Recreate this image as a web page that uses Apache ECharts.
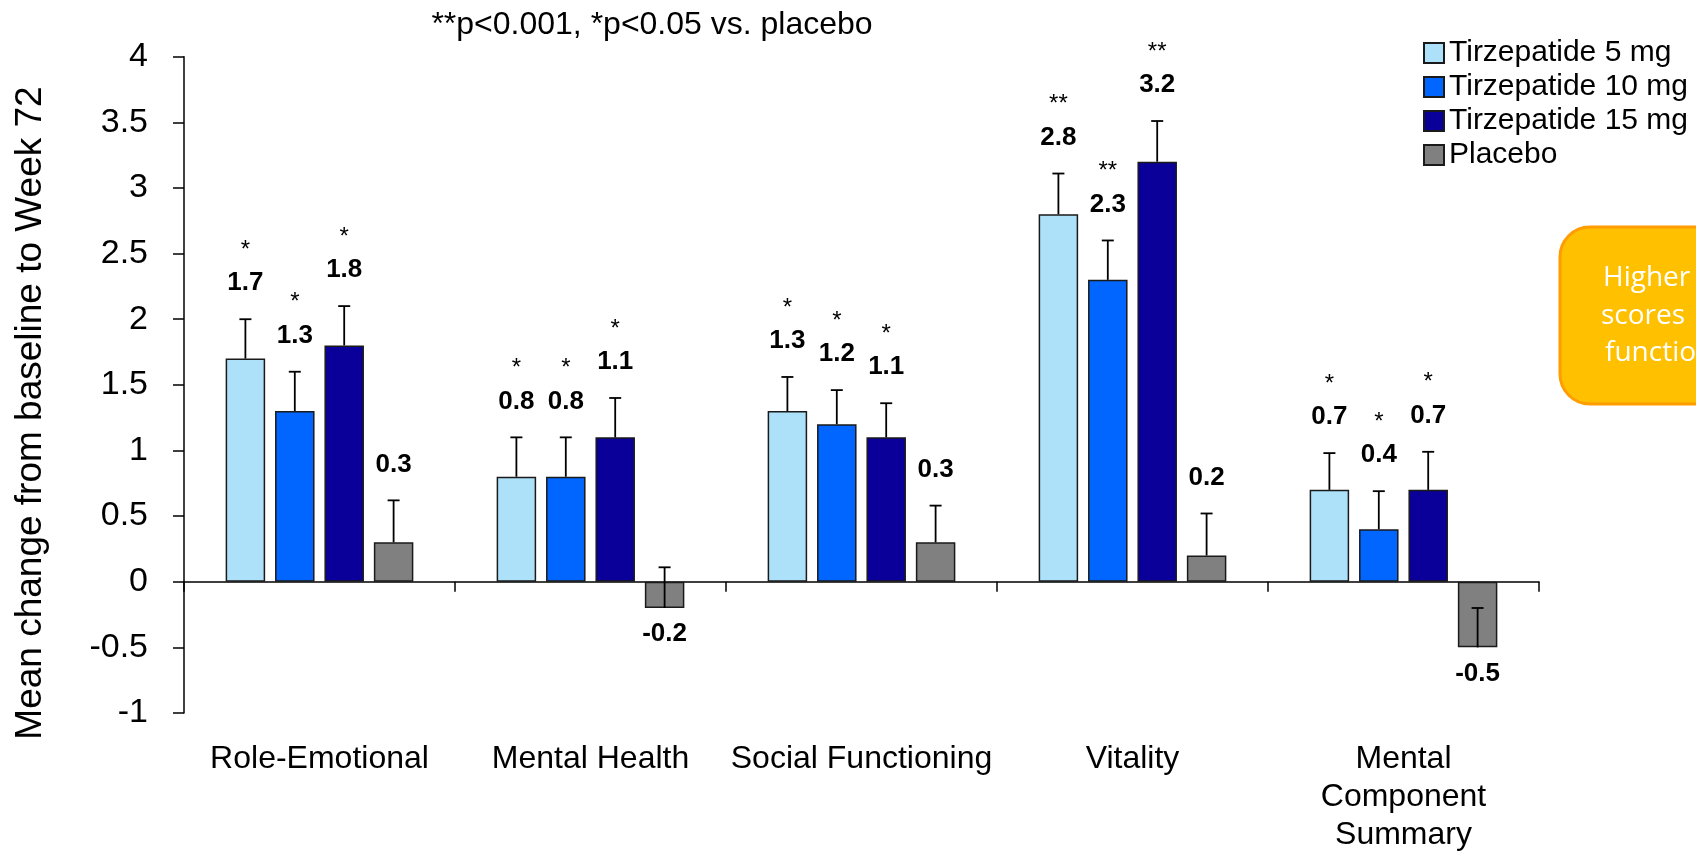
<!DOCTYPE html>
<html>
<head>
<meta charset="utf-8">
<script src="https://cdn.jsdelivr.net/npm/echarts@6/dist/echarts.min.js"></script>
<style>
html,body{margin:0;padding:0;background:#fff;}
#chart{width:1696px;height:854px;}
</style>
</head>
<body>
<div id="chart"></div>
<script>
// ---- data ----
var categories = ['Role-Emotional', 'Mental Health', 'Social Functioning', 'Vitality', 'Mental\nComponent\nSummary'];
var seriesNames = ['Tirzepatide 5 mg', 'Tirzepatide 10 mg', 'Tirzepatide 15 mg', 'Placebo'];
var tz5 = [1.7, 0.8, 1.3, 2.8, 0.7];
var tz10 = [1.3, 0.8, 1.2, 2.3, 0.4];
var tz15 = [1.8, 1.1, 1.1, 3.2, 0.7];
var placebo = [0.3, -0.2, 0.3, 0.2, -0.5];
var err5 = [0.30, 0.30, 0.26, 0.31, 0.28];
var err10 = [0.30, 0.30, 0.26, 0.30, 0.29];
var err15 = [0.30, 0.30, 0.26, 0.31, 0.29];
var errP = [0.32, 0.31, 0.28, 0.32, 0.30];
var sig5 = ['*', '*', '*', '**', '*'];
var sig10 = ['*', '*', '*', '**', '*'];
var sig15 = ['*', '*', '*', '**', '*'];
var sigP = ['', '', '', '', ''];
var yTicks = { min: -1, max: 4, interval: 0.5 };
var noteText = '**p<0.001, *p<0.05 vs. placebo';
var yAxisTitle = 'Mean change from baseline to Week 72';
var calloutLines = ['Higher', 'scores', 'functioning'];

// ---- styling ----
var FONT = '"Liberation Sans", Arial, sans-serif';
var colors = ['#ADE1F9', '#0066FF', '#0A0099', '#808080'];
var BAR_W = 39.5;
var GAP = 9.9;
var values = [tz5, tz10, tz15, placebo];
var errs = [err5, err10, err15, errP];
var sigs = [sig5, sig10, sig15, sigP];

function makeRender(k) {
  return function (params, api) {
    var cat = api.value(0), v = api.value(1), e = api.value(2);
    var sig = sigs[k][params.dataIndex];
    var total = 4 * BAR_W + 3 * GAP;
    var offset = -total / 2 + k * (BAR_W + GAP) + BAR_W / 2;
    var base = api.coord([cat, v]);
    var top = api.coord([cat, v + e]);
    var x = base[0] + offset;
    var children = [
      { type: 'line', shape: { x1: x, y1: base[1], x2: x, y2: top[1] }, style: { stroke: '#000', lineWidth: 1.8 } },
      { type: 'line', shape: { x1: x - 6, y1: top[1], x2: x + 6, y2: top[1] }, style: { stroke: '#000', lineWidth: 1.8 } }
    ];
    var labelY = v >= 0 ? top[1] - 36 : base[1] + 26;
    children.push({ type: 'text', style: { text: v.toFixed(1), x: x, y: labelY, align: 'center', verticalAlign: 'middle',
      fontFamily: FONT, fontSize: 26, fontWeight: 'bold', fill: '#000' } });
    if (sig) {
      children.push({ type: 'text', style: { text: sig, x: x, y: labelY - 33, align: 'center', verticalAlign: 'middle',
        fontFamily: FONT, fontSize: 24, fill: '#000' } });
    }
    return { type: 'group', children: children };
  };
}

var series = [];
for (var k = 0; k < 4; k++) {
  series.push({
    name: seriesNames[k], type: 'bar', xAxisIndex: 0, barWidth: BAR_W, barGap: (GAP / BAR_W * 100) + '%',
    data: values[k],
    itemStyle: { color: colors[k], borderColor: '#1a1a1a', borderWidth: 1.5 },
    emphasis: { disabled: true }, z: 2
  });
}
for (var k2 = 0; k2 < 4; k2++) {
  var d = [];
  for (var i = 0; i < categories.length; i++) d.push([i, values[k2][i], errs[k2][i]]);
  series.push({
    type: 'custom', xAxisIndex: 0, data: d, renderItem: makeRender(k2), z: 5, silent: true, clip: false
  });
}

var CALLOUT_FONT = '"Open Sans", "Noto Sans", sans-serif';
var chart = echarts.init(document.getElementById('chart'), null, { renderer: 'canvas' });
chart.setOption({
  animation: false,
  backgroundColor: '#fff',
  textStyle: { fontFamily: FONT },
  grid: { left: 184, right: 157, top: 56.7, bottom: 131, containLabel: false },
  legend: {
    orient: 'vertical', left: 1418, top: 33, itemWidth: 20, itemHeight: 20, itemGap: 4,
    icon: 'rect', data: seriesNames,
    textStyle: { fontFamily: FONT, fontSize: 30, color: '#000' }
  },
  xAxis: [
    {
      type: 'category', data: categories, position: 'bottom',
      axisLine: { onZero: true, lineStyle: { color: '#000', width: 1.5 } },
      axisTick: { show: true, length: 10, interval: 0, lineStyle: { color: '#000', width: 1.5 } },
      axisLabel: { show: false }, splitLine: { show: false }
    },
    {
      type: 'category', data: categories, position: 'bottom',
      axisLine: { show: false, onZero: false }, axisTick: { show: false },
      axisLabel: { show: true, interval: 0, margin: 27, fontFamily: FONT, fontSize: 32, color: '#000', lineHeight: 38 },
      splitLine: { show: false }
    }
  ],
  yAxis: {
    type: 'value', min: yTicks.min, max: yTicks.max, interval: yTicks.interval,
    axisLine: { show: true, lineStyle: { color: '#000', width: 1.5 } },
    axisTick: { show: true, length: 11, lineStyle: { color: '#000', width: 1.5 } },
    axisLabel: { fontFamily: FONT, fontSize: 34, color: '#000', margin: 36 },
    splitLine: { show: false }
  },
  graphic: [
    { type: 'text', style: { text: noteText, x: 652, y: 25, align: 'center', verticalAlign: 'middle', fontFamily: FONT, fontSize: 32, fill: '#000' } },
    { type: 'text', x: 31, y: 413, rotation: Math.PI / 2, style: { text: yAxisTitle, x: 0, y: 0, align: 'center', verticalAlign: 'middle', fontFamily: FONT, fontSize: 37, fill: '#000' } },
    { type: 'rect', shape: { x: 1560, y: 227, width: 320, height: 177, r: 30 }, style: { fill: '#FFC000', stroke: '#FF9C00', lineWidth: 3 }, z: 10 },
    { type: 'text', style: { text: calloutLines[0], x: 1603, y: 278, align: 'left', verticalAlign: 'middle', fontFamily: CALLOUT_FONT, fontSize: 28, fill: '#fff' }, z: 11 },
    { type: 'text', style: { text: calloutLines[1], x: 1601, y: 316, align: 'left', verticalAlign: 'middle', fontFamily: CALLOUT_FONT, fontSize: 28, fill: '#fff' }, z: 11 },
    { type: 'text', style: { text: calloutLines[2], x: 1605, y: 353, align: 'left', verticalAlign: 'middle', fontFamily: CALLOUT_FONT, fontSize: 28, fill: '#fff' }, z: 11 }
  ],
  series: series
});
</script>
</body>
</html>
